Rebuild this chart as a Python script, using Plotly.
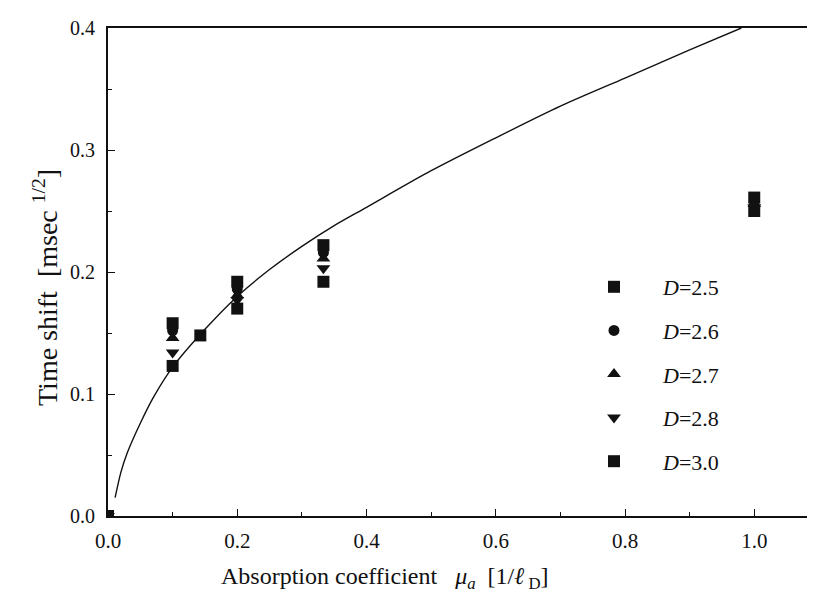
import plotly.graph_objects as go

# ---- data ----
series_labels = ["2.5", "2.6", "2.7", "2.8", "3.0"]
series_x = {
    "2.5": [0.0, 0.1, 0.2, 1/3, 1.0],
    "2.6": [0.0, 0.1, 0.2, 1/3, 1.0],
    "2.7": [0.0, 0.1, 0.2, 1/3, 1.0],
    "2.8": [0.0, 0.1, 0.2, 1/3, 1.0],
    "3.0": [0.0, 0.1, 1/7, 0.2, 1/3, 1.0],
}
series_y = {
    "2.5": [0.0, 0.158, 0.192, 0.222, 0.261],
    "2.6": [0.0, 0.152, 0.186, 0.216, 0.258],
    "2.7": [0.0, 0.146, 0.181, 0.211, 0.256],
    "2.8": [0.0, 0.134, 0.177, 0.203, 0.253],
    "3.0": [0.0, 0.123, 0.148, 0.170, 0.192, 0.250],
}
series_symbols = ["square", "circle", "triangle-up", "triangle-down", "square"]

# fitted curve, points
curve_x = [0.011, 0.02, 0.03, 0.05, 0.07, 0.1, 0.15, 0.2, 0.25, 0.3, 0.35,
           0.4, 0.5, 0.6, 0.7, 0.8, 0.9, 0.98]
curve_y = [0.015, 0.036, 0.052, 0.076, 0.097, 0.122, 0.153, 0.180, 0.202, 0.221, 0.238,
           0.253, 0.283, 0.310, 0.336, 0.359, 0.382, 0.400]

x_ticks = [0.0, 0.2, 0.4, 0.6, 0.8, 1.0]
x_ticklabels = ["0.0", "0.2", "0.4", "0.6", "0.8", "1.0"]
y_ticks = [0.0, 0.1, 0.2, 0.3, 0.4]
y_ticklabels = ["0.0", "0.1", "0.2", "0.3", "0.4"]

FONT = "Liberation Serif"
INK = "#111111"

# page body has an 8px margin; figure coordinates are window minus 8
OFF = 8
W, H = 815 - OFF, 610 - OFF
L, T = 108 - OFF, 28 - OFF
B = H - (516 - OFF)
PW, PH = W - L, H - T - B

fig = go.Figure()

fig.add_trace(go.Scatter(
    x=curve_x, y=curve_y, mode="lines",
    line=dict(color=INK, width=1.4, shape="spline", smoothing=0.8),
    showlegend=False, hoverinfo="skip",
))

for lab, sym in zip(series_labels, series_symbols):
    fig.add_trace(go.Scatter(
        x=series_x[lab], y=series_y[lab], mode="markers",
        name=f"<i>D</i>={lab}", legendgroup=lab,
        marker=dict(symbol=sym, size=12 if sym != "circle" else 11,
                    color=INK, line=dict(width=0)),
    ))

axis_common = dict(
    showgrid=False, zeroline=False, showline=True, linecolor=INK, linewidth=1.8,
    ticks="inside", tickcolor=INK, tickwidth=1.3, ticklen=7,
)

fig.update_xaxes(
    **axis_common, range=[0, 1.094], tickvals=x_ticks, ticktext=x_ticklabels,
    mirror=True, ticklabelstandoff=5,
    tickfont=dict(family=FONT, size=21, color=INK),
    minor=dict(ticks="inside", dtick=0.1, ticklen=4, tickcolor=INK, tickwidth=1.2),
)
fig.update_yaxes(
    **axis_common, range=[0, 0.4], tickvals=y_ticks, ticktext=y_ticklabels,
    ticklabelstandoff=7,
    tickfont=dict(family=FONT, size=20, color=INK),
    minor=dict(ticks="inside", dtick=0.05, ticklen=4, tickcolor=INK, tickwidth=1.2),
)

fig.add_annotation(
    text="Absorption coefficient &nbsp;&nbsp;<i>μ<sub>a</sub></i>&nbsp; [1/<i>ℓ</i><sub> D</sub>]",
    xref="paper", yref="paper", x=(385 - 108) / PW, y=-(578 - 516) / PH,
    xanchor="center", yanchor="middle", showarrow=False,
    font=dict(family=FONT, size=24, color=INK),
)
fig.add_annotation(
    text="Time shift &nbsp;[msec <sup>1/2</sup>]",
    xref="paper", yref="paper", x=-(108 - 45) / PW, y=(516 - 288) / PH,
    xanchor="center", yanchor="middle", showarrow=False, textangle=-90,
    font=dict(family=FONT, size=28, color=INK),
)

fig.update_layout(
    width=W, height=H,
    margin=dict(l=L, r=0, t=T, b=B),
    paper_bgcolor="white", plot_bgcolor="white",
    showlegend=True,
    legend=dict(
        x=(565 - 108) / PW, y=(516 - 266) / PH, xanchor="left", yanchor="top",
        font=dict(family=FONT, size=22, color=INK),
        bgcolor="rgba(0,0,0,0)", tracegroupgap=12, itemwidth=88,
    ),
)

fig.write_html("out.html")
